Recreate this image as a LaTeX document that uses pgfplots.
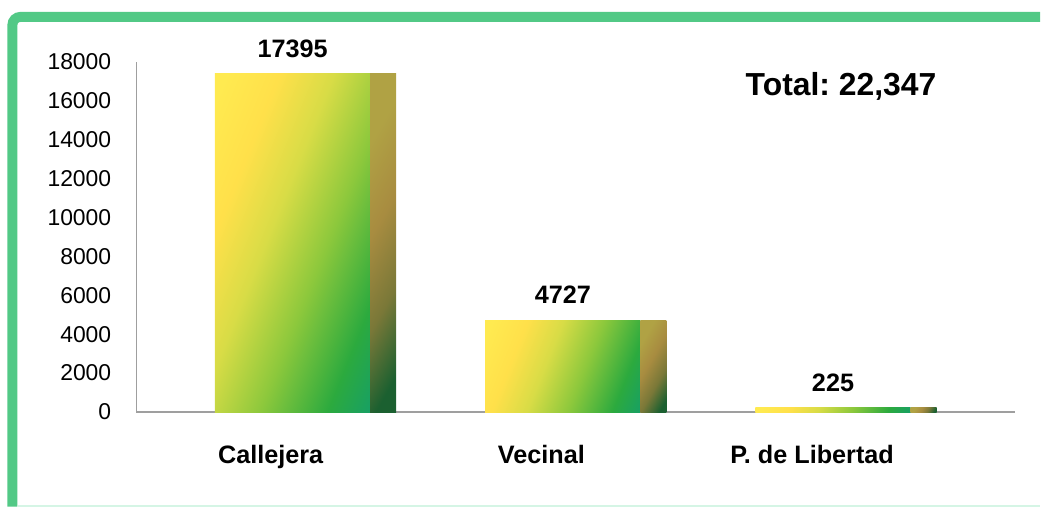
\documentclass[border=0pt]{standalone}
\usepackage{pgfplots}
\pgfplotsset{compat=1.18}
\usepackage{fontspec}
\setmainfont{Liberation Sans}
\definecolor{frame}{HTML}{52C986}
\definecolor{mint}{HTML}{D5F5E5}
\definecolor{cY}{HTML}{FFEA50}
\definecolor{cY2}{HTML}{FFE04A}
\definecolor{cYG}{HTML}{D8DC46}
\definecolor{cG}{HTML}{8CC83C}
\definecolor{cG2}{HTML}{2CAA3E}
\definecolor{cT}{HTML}{109C72}
\definecolor{sTop}{HTML}{B0A244}
\definecolor{sMid}{HTML}{A88C40}
\definecolor{sMid2}{HTML}{7A7838}
\definecolor{sBot}{HTML}{1B6030}
\pgfdeclareverticalshading{frontsh}{100bp}{color(0bp)=(cT); color(14bp)=(cT); color(27bp)=(cG2); color(42bp)=(cG); color(56bp)=(cYG); color(68bp)=(cY2); color(80bp)=(cY); color(100bp)=(cY)}
\pgfdeclareverticalshading{sidesh}{100bp}{color(0bp)=(sBot); color(22bp)=(sBot); color(38bp)=(sMid2); color(55bp)=(sMid); color(72bp)=(sTop); color(100bp)=(sTop)}
\pgfplotsset{
  front/.style={ybar, bar width=156, bar shift=0pt, draw=none, shade, shading=frontsh, shading angle=68,
    nodes near coords, point meta=explicit symbolic,
    every node near coord/.style={anchor=south, inner sep=0pt, yshift=12pt, font=\fontsize{19}{22}\selectfont\bfseries, text=black}},
  side/.style={ybar, bar width=26, bar shift=0pt, draw=none, shade, shading=sidesh, shading angle=60}
}
\begin{document}
\begin{tikzpicture}
\begin{scope}[x=0.75pt,y=-0.75pt,xshift=-102.75pt,yshift=310.5pt]
\useasboundingbox (0,0) rectangle (1045,509);
\end{scope}
\begin{axis}[at={(0,0)}, anchor=south west, scale only axis,
  width=662.25pt, height=264pt,
  xmin=0, xmax=883, ymin=0, ymax=18000,
  axis x line*=bottom, axis y line*=left,
  axis line style={draw=gray!75, line width=1.2pt},
  ytick={0,2000,...,18000},
  xtick={135,407,679},
  xticklabels={Callejera,Vecinal,P. de Libertad},
  major tick length=0pt, tick style={draw=none},
  scaled y ticks=false,
  /pgf/number format/1000 sep={},
  /pgf/number format/assume math mode=true,
  yticklabel style={anchor=east, inner sep=0pt, xshift=-18.75pt, font=\fontsize{17.25}{20}\selectfont},
  xticklabel style={anchor=north, inner sep=0pt, yshift=-24.75pt, font=\fontsize{19}{22}\selectfont\bfseries},
  clip=false]
\addplot[front] coordinates {(157,17395)[17395]};
\addplot[side] coordinates {(248,17395)};
\addplot[front] coordinates {(428.5,4727)[4727]};
\addplot[side] coordinates {(519.5,4727)};
\addplot[front] coordinates {(700,225)[225]};
\addplot[side] coordinates {(791,225)};
\node[font=\fontsize{24}{28}\selectfont\bfseries] at (axis cs:708,16721) {Total:\ 22,347};
\end{axis}
\begin{scope}[x=0.75pt,y=-0.75pt,xshift=-102.75pt,yshift=310.5pt]
\draw[frame, line width=7.5pt, rounded corners=6pt] (12.5,509) -- (12.5,17) -- (1045,17);
\draw[mint, line width=1.5pt] (18,508) -- (1045,508);
\end{scope}
\end{tikzpicture}
\end{document}
